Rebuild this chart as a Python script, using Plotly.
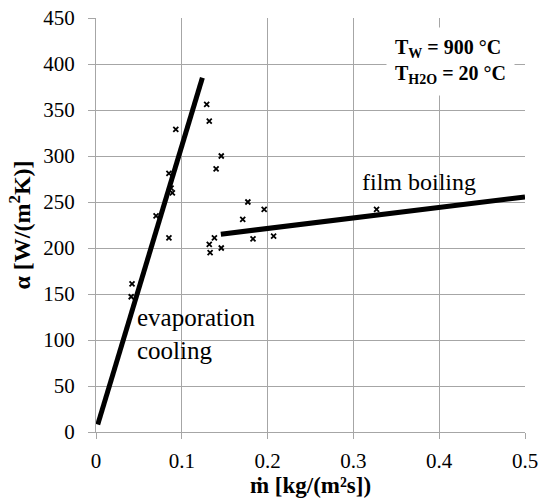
import plotly.graph_objects as go

# measured points
mx = [0.042, 0.041, 0.070, 0.085, 0.0875, 0.089, 0.085, 0.093, 0.129, 0.132, 0.146, 0.140,
      0.138, 0.132, 0.146, 0.133, 0.177, 0.196, 0.171, 0.183, 0.207, 0.327]
my = [161, 147, 235, 281, 265, 260, 211, 329, 356, 338, 300, 286,
      211, 204, 200, 195, 250, 242, 231, 210, 213, 242]

# trend lines
evap_x = [0.002, 0.124]
evap_y = [8, 385]
film_x = [0.1455, 0.5]
film_y = [215, 255.5]

xticks = [0, 0.1, 0.2, 0.3, 0.4, 0.5]
xticklabels = ["0", "0.1", "0.2", "0.3", "0.4", "0.5"]
yticks = list(range(0, 451, 50))

FONT = "Liberation Serif"

fig = go.Figure()
fig.add_trace(go.Scatter(x=evap_x, y=evap_y, mode="lines",
                         line=dict(color="black", width=5), showlegend=False))
fig.add_trace(go.Scatter(x=film_x, y=film_y, mode="lines",
                         line=dict(color="black", width=5), showlegend=False))
fig.add_trace(go.Scatter(x=mx, y=my, mode="markers",
                         marker=dict(symbol="x-thin", size=5, color="black",
                                     line=dict(color="black", width=1.8)),
                         showlegend=False))

fig.add_annotation(x=0.376, y=272, xref="x", yref="y", text="film boiling",
                   showarrow=False, font=dict(family=FONT, size=24, color="black"))
fig.add_annotation(x=0.046, y=106, xref="x", yref="y", text="evaporation<br>cooling",
                   showarrow=False, xanchor="left", align="left",
                   font=dict(family=FONT, size=25, color="black"))
fig.add_annotation(x=0.488, y=440, xref="x", yref="y",
                   text="<b>T<sub>W</sub> = 900 °C</b><br><b>T<sub>H2O</sub> = 20 °C</b>",
                   showarrow=False, xanchor="right", yanchor="top", align="left",
                   bgcolor="white", borderpad=8,
                   font=dict(family=FONT, size=20, color="black"))

fig.update_layout(
    width=541, height=503,
    margin=dict(l=96, r=16, t=18, b=71),
    plot_bgcolor="white", paper_bgcolor="white",
    font=dict(family=FONT, size=21, color="black"),
    xaxis=dict(range=[0, 0.5], tickvals=xticks, ticktext=xticklabels,
               automargin=False,
               showgrid=True, gridcolor="#a6a6a6", gridwidth=1,
               showline=True, linecolor="#a6a6a6", linewidth=1,
               ticks="outside", ticklen=6, tickcolor="#a6a6a6",
               zeroline=False, tickfont=dict(family=FONT, size=21),
               ticklabelstandoff=4,
               title=dict(text="<b>ṁ [kg/(m²s])</b>", font=dict(family=FONT, size=23), standoff=3)),
    yaxis=dict(range=[0, 450], tickvals=yticks,
               automargin=False,
               showgrid=True, gridcolor="#a6a6a6", gridwidth=1,
               showline=True, linecolor="#a6a6a6", linewidth=1,
               ticks="outside", ticklen=7, tickcolor="#a6a6a6",
               zeroline=False, tickfont=dict(family=FONT, size=21),
               ticklabelstandoff=9,
               title=dict(text="<b>α [W/(m<sup>2</sup>K)]</b>", font=dict(family=FONT, size=24), standoff=5)),
)

fig.write_html("out.html")
